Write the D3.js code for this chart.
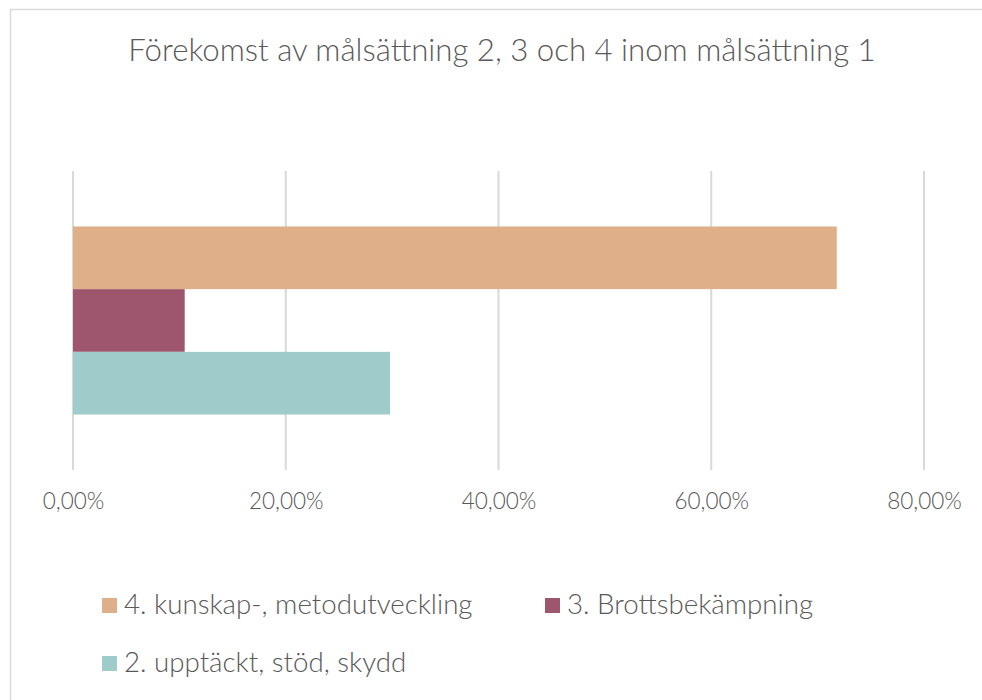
<!DOCTYPE html>
<html>
<head>
<meta charset="utf-8">
<script src="https://cdn.jsdelivr.net/npm/d3@7"></script>
<style>
  body { margin: 0; background: #fff; }
  text { font-family: Lato, "Open Sans", sans-serif; font-weight: 300; fill: #595959; }
</style>
</head>
<body>
<div id="chart"></div>
<script>
// data
var categories = ["Målsättning 1"];
var seriesNames = ["4. kunskap-, metodutveckling", "3. Brottsbekämpning", "2. upptäckt, stöd, skydd"];
var seriesValues = [71.8, 10.5, 29.8];
var seriesColors = ["#dfaf8a", "#9e566e", "#9fcbcb"];
var tickValues = [0, 20, 40, 60, 80];

var svgWidth = 982;
var svgHeight = 700;

var svg = d3.select("#chart")
  .append("svg")
  .attr("width", svgWidth)
  .attr("height", svgHeight);

// chart frame
svg.append("rect")
  .attr("x", 10.5)
  .attr("y", 9.5)
  .attr("width", 1000)
  .attr("height", 720)
  .attr("fill", "none")
  .attr("stroke", "#d9d9d9")
  .attr("stroke-width", 1.5);

svg.append("text")
  .attr("x", 502)
  .attr("y", 61)
  .attr("text-anchor", "middle")
  .style("font-size", "31.2px")
  .text("Förekomst av målsättning 2, 3 och 4 inom målsättning 1");

var x = d3.scaleLinear()
  .domain([0, 80])
  .range([73, 924]);

var y0 = d3.scaleBand()
  .domain(categories)
  .range([171, 470])
  .paddingInner(0)
  .paddingOuter(0.295);

var y1 = d3.scaleBand()
  .domain(seriesNames)
  .range([0, y0.bandwidth()]);

// gridlines
svg.append("g")
  .selectAll("line")
  .data(tickValues)
  .enter()
  .append("line")
  .attr("x1", d => x(d))
  .attr("x2", d => x(d))
  .attr("y1", 171)
  .attr("y2", 470)
  .attr("stroke", "#d9d9d9")
  .attr("stroke-width", 2);

// bars
var barGroup = svg.append("g")
  .selectAll("g")
  .data(categories)
  .enter()
  .append("g")
  .attr("transform", d => `translate(0, ${y0(d)})`);

barGroup.selectAll("rect")
  .data(seriesNames.map((s, i) => ({ name: s, value: seriesValues[i], color: seriesColors[i] })))
  .enter()
  .append("rect")
  .attr("x", x(0))
  .attr("y", d => y1(d.name))
  .attr("width", d => x(d.value) - x(0))
  .attr("height", y1.bandwidth())
  .attr("fill", d => d.color);

// x axis labels
var xAxis = d3.axisBottom(x)
  .tickValues(tickValues)
  .tickSize(0)
  .tickPadding(0)
  .tickFormat(d => d3.format(".2f")(d).replace(".", ",") + "%");

var axisG = svg.append("g")
  .attr("transform", "translate(0, 509)")
  .call(xAxis);
axisG.select(".domain").remove();
axisG.selectAll("text")
  .attr("y", 0)
  .attr("dy", "0")
  .style("font-size", "22.5px")
  .style("font-family", "Lato, sans-serif")
  .attr("fill", "#595959");

// legend
var legendPos = [[102, 614], [545, 614], [102, 672]];
var legend = svg.append("g")
  .selectAll("g")
  .data(seriesNames)
  .enter()
  .append("g")
  .attr("transform", (d, i) => `translate(${legendPos[i][0]}, ${legendPos[i][1]})`);

legend.append("rect")
  .attr("x", 0)
  .attr("y", -16)
  .attr("width", 15)
  .attr("height", 15)
  .attr("fill", (d, i) => seriesColors[i]);

legend.append("text")
  .attr("x", 22)
  .attr("y", 0)
  .style("font-size", "27.7px")
  .text(d => d);
</script>
</body>
</html>
